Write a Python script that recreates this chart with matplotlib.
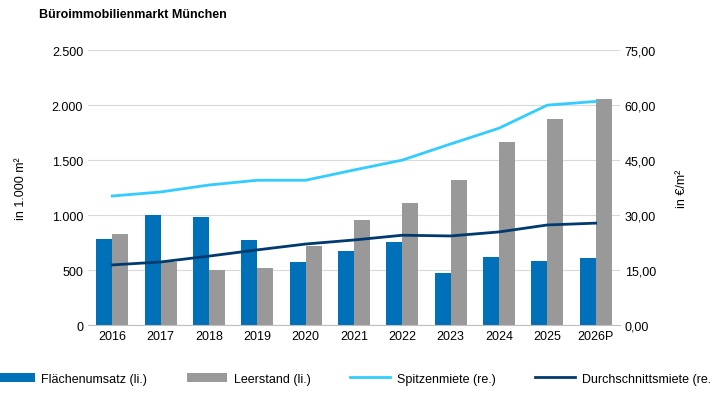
import matplotlib
matplotlib.use("Agg")
import matplotlib.pyplot as plt
import numpy as np
from matplotlib.ticker import FuncFormatter

years = ["2016","2017","2018","2019","2020","2021","2022","2023","2024","2025","2026P"]
flaechenumsatz = [780,1000,980,773,573,673,755,470,618,582,609]
leerstand = [827,573,500,518,718,955,1109,1318,1664,1873,2055]
spitzenmiete = [35.2,36.3,38.2,39.5,39.5,42.3,45.0,49.4,53.7,60.0,61.0]
durchschnitt = [16.4,17.2,18.8,20.5,22.1,23.2,24.5,24.3,25.4,27.3,27.8]

plt.rcParams['font.family'] = ['Liberation Sans', 'DejaVu Sans']
fig = plt.figure(figsize=(7.1,4.06), dpi=100)
ax = fig.add_axes([0.124,0.197,0.749,0.677])
x = np.arange(len(years))
w = 0.33
b1 = ax.bar(x-w/2, flaechenumsatz, w, color="#0070b8", label="Flächenumsatz (li.)", zorder=2)
b2 = ax.bar(x+w/2, leerstand, w, color="#999999", label="Leerstand (li.)", zorder=2)
ax.set_ylim(0,2500)
ax.set_xlim(-0.5,len(years)-0.5)
ax.set_yticks(range(0,2501,500))
ax.yaxis.set_major_formatter(FuncFormatter(lambda v,p: f"{int(v):,}".replace(",",".")))
ax.set_xticks(x); ax.set_xticklabels(years)
ax.grid(axis='y', color="#d9d9d9", lw=0.8, zorder=0)
ax.set_ylabel("in 1.000 m²", fontsize=9, labelpad=18)
ax2 = ax.twinx()
l1, = ax2.plot(x, spitzenmiete, color="#33ccff", lw=2, label="Spitzenmiete (re.)")
l2, = ax2.plot(x, durchschnitt, color="#003a6e", lw=2, label="Durchschnittsmiete (re.)")
ax2.set_ylim(0,75)
ax2.set_yticks(range(0,76,15))
ax2.yaxis.set_major_formatter(FuncFormatter(lambda v,p: f"{v:.2f}".replace(".",",")))
ax2.set_ylabel("in €/m²", fontsize=9, labelpad=14)
for a in (ax, ax2):
    for s in a.spines.values(): s.set_visible(False)
    a.tick_params(length=0, labelsize=9)
ax.spines['bottom'].set_visible(True); ax.spines['bottom'].set_color("#bfbfbf")
fig.text(0.055,0.955,"Büroimmobilienmarkt München", fontsize=9, fontweight='bold')
fig.legend(handles=[b1,b2,l1,l2], loc='center', bbox_to_anchor=(0.5,0.065), ncol=4,
           frameon=False, fontsize=9, handlelength=3.2, handletextpad=0.5, columnspacing=3.2)
fig.savefig("out.png", dpi=100)
